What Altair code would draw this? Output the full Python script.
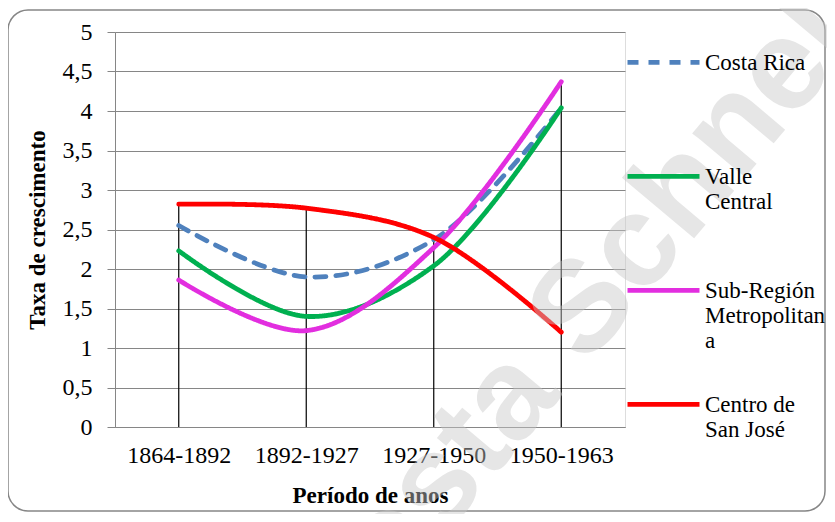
import altair as alt
import pandas as pd

# ---- data ----
periods = ["1864-1892", "1892-1927", "1927-1950", "1950-1963"]
series_names = ["Costa Rica", "Valle Central", "Sub-Región Metropolitana", "Centro de San José"]
costa_rica = [2.55, 1.90, 2.37, 4.04]
valle_central = [2.23, 1.40, 2.04, 4.04]
sub_region = [1.86, 1.22, 2.27, 4.37]
centro_sj = [2.82, 2.77, 2.40, 1.20]
series_values = [costa_rica, valle_central, sub_region, centro_sj]
legend_wrapped = [["Costa Rica"], ["Valle", "Central"], ["Sub-Región", "Metropolitan", "a"], ["Centro de", "San José"]]
series_colors = ["#4F81BD", "#00B050", "#E22EDF", "#FF0000"]
series_dashes = [[11, 10], [1, 0], [1, 0], [1, 0]]
y_ticks = [0, 0.5, 1, 1.5, 2, 2.5, 3, 3.5, 4, 4.5, 5]
watermark = "Costa Schnell"

rows = []
for name, vals in zip(series_names, series_values):
    for p, v in zip(periods, vals):
        rows.append({"Período": p, "Série": name, "Taxa": v})
df = pd.DataFrame(rows)

label_expr = " : ".join(
    f"datum.label == '{n}' ? [{', '.join(repr(s) for s in w)}]" for n, w in zip(series_names, legend_wrapped)
) + " : datum.label"

serif = "Liberation Serif, Times New Roman, serif"
grid_col = "#868686"

x_enc = alt.X("Período:N", sort=periods, scale=alt.Scale(type="point", padding=0.5),
              axis=alt.Axis(title="Período de anos", labelAngle=0, ticks=False, domain=True,
                            domainColor=grid_col, labelFont=serif, labelFontSize=24,
                            labelColor="black", labelPadding=16, titleFont=serif,
                            titleFontSize=23, titleFontWeight="bold", titleColor="black",
                            titlePadding=17, grid=False))
y_scale = alt.Scale(domain=[0, 5], nice=False)
y_axis = alt.Axis(title="Taxa de crescimento", values=y_ticks, grid=True, gridColor=grid_col,
                  gridWidth=1.2, tickColor=grid_col, tickSize=8, domainColor=grid_col,
                  labelFont=serif, labelFontSize=24, labelColor="black", labelPadding=15,
                  labelOverlap=False,
                  labelExpr="replace(toString(datum.value), '.', ',')",
                  titleFont=serif, titleFontSize=23, titleFontWeight="bold",
                  titleColor="black", titlePadding=13)

base = alt.Chart(df)
one_row = "datum['Série'] == 'Costa Rica' && datum['Período'] == '1864-1892'"

frame = base.mark_rect(cornerRadius=20, fillOpacity=0, stroke=grid_col, strokeWidth=1.5).encode(
    x=alt.value(-107), x2=alt.value(710), y=alt.value(-22), y2=alt.value(479)
).transform_filter(one_row)

drops = base.transform_aggregate(
    top="max(Taxa)", groupby=["Período"]
).mark_rule(color="black", strokeWidth=1.2).encode(
    x=x_enc, y=alt.Y("top:Q", scale=y_scale, axis=y_axis), y2=alt.datum(0)
)

lines = base.mark_line(interpolate="catmull-rom", strokeWidth=4.8, strokeCap="round").encode(
    x=x_enc, y=alt.Y("Taxa:Q", scale=y_scale, axis=y_axis),
    color=alt.Color("Série:N", sort=series_names,
                    scale=alt.Scale(domain=series_names, range=series_colors),
                    legend=alt.Legend(title=None, orient="none", legendX=510, legendY=-1,
                                      padding=0,
                                      symbolType="M-1,-0.2L1,-0.2", symbolSize=5184,
                                      symbolStrokeWidth=4.8,
                                      labelFont=serif, labelFontSize=23, labelColor="black",
                                      labelLimit=400, labelOffset=3, labelBaseline="alphabetic",
                                      labelExpr=label_expr, rowPadding=20, gridAlign="all")),
    strokeDash=alt.StrokeDash("Série:N", sort=series_names,
                              scale=alt.Scale(domain=series_names, range=series_dashes),
                              legend=None),
    order=alt.Order("Período:N"),
    detail="Série:N",
)

wm = base.mark_text(text=watermark, angle=310, fontSize=130, font="Liberation Sans",
                    fontWeight="bold", color="#c8c8c8", opacity=0.45,
                    align="center", baseline="middle").encode(
    x=alt.value(462), y=alt.value(285)
).transform_filter(one_row)

chart = alt.layer(frame, drops, lines, wm).properties(
    width=510, height=395,
    padding={"left": 107, "top": 24, "right": 202, "bottom": 87},
    autosize=alt.AutoSizeParams(type="none"),
).configure_view(stroke=None).configure(background="white")

chart.save("out.html", embed_options={"renderer": "svg", "actions": False})
